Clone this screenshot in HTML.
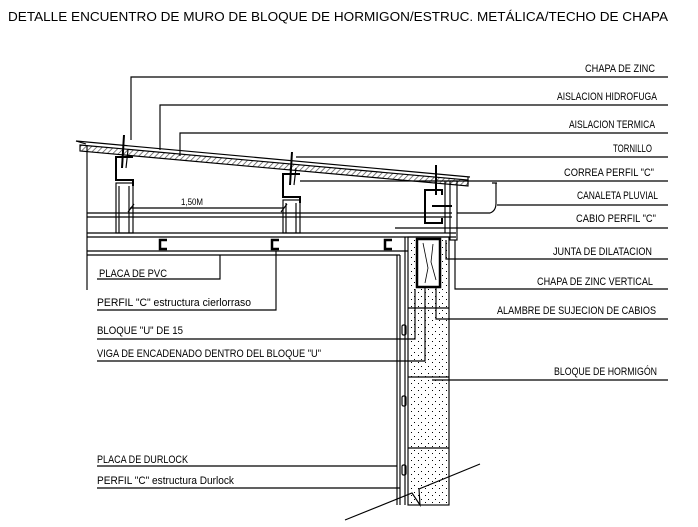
<!DOCTYPE html>
<html><head><meta charset="utf-8"><style>
html,body{margin:0;padding:0;background:#fff;}
svg{display:block;}
text{font-family:"Liberation Sans",sans-serif;fill:#000;}
</style></head><body>
<svg width="698" height="527" viewBox="0 0 698 527" xmlns="http://www.w3.org/2000/svg">
<defs>
<pattern id="dots" width="7" height="7" patternUnits="userSpaceOnUse">
<rect x="1" y="2" width="1" height="1" fill="#000"/><rect x="5" y="5" width="1" height="1" fill="#000"/>
</pattern>
<pattern id="hatch" width="4" height="4" patternUnits="userSpaceOnUse" patternTransform="rotate(45)">
<line x1="0" y1="0" x2="0" y2="4" stroke="#555" stroke-width="1.5"/>
</pattern>
</defs>
<text x="8" y="21" font-size="13" textLength="660" lengthAdjust="spacingAndGlyphs">DETALLE ENCUENTRO DE MURO DE BLOQUE DE HORMIGON/ESTRUC. METÁLICA/TECHO DE CHAPA</text>

<g stroke="#000" stroke-width="1.15" fill="none">
<polygon points="80,145 468,180 468,186 80,151" fill="url(#hatch)" stroke="#000"/>
<line x1="76" y1="141" x2="470" y2="177"/>
<line x1="76" y1="141" x2="86" y2="144"/>
<line x1="468" y1="177" x2="468" y2="184"/>
<line x1="87" y1="145" x2="87" y2="290"/>
<line x1="87" y1="213" x2="452" y2="213"/>
<line x1="87" y1="217" x2="452" y2="217"/>
<line x1="87" y1="233" x2="456" y2="233"/>
<line x1="87" y1="237" x2="456" y2="237"/>
<line x1="87" y1="251" x2="408" y2="251"/>
<line x1="87" y1="255" x2="400" y2="255"/>
<rect x="116" y="183" width="17" height="50"/>
<line x1="119" y1="186" x2="119" y2="233"/><line x1="129" y1="186" x2="129" y2="233"/>
<rect x="283" y="200" width="17" height="33"/>
<line x1="286" y1="203" x2="286" y2="233"/><line x1="296" y1="203" x2="296" y2="233"/>
<path d="M133,157 L116,157 L116,180 L133,180 L133,186" stroke-width="2"/>
<path d="M300,174 L283,174 L283,197 L300,197 L300,203" stroke-width="2"/>
<path d="M442,195 L442,190 L425,190 L425,223 L442,223 L442,218" stroke-width="2"/>
<line x1="124" y1="135" x2="122" y2="168" stroke-width="2"/><line x1="128" y1="150" x2="126" y2="168"/>
<line x1="292" y1="152" x2="290" y2="185" stroke-width="2"/><line x1="296" y1="168" x2="294" y2="185"/>
<line x1="436" y1="165" x2="436" y2="195" stroke-width="2"/>
<line x1="432" y1="206" x2="452" y2="206" stroke-width="2"/>
<line x1="130" y1="208" x2="284" y2="208"/>
<line x1="128" y1="212" x2="134" y2="204"/><line x1="281" y1="212" x2="287" y2="204"/>
<path d="M167,240 L160,240 L160,249 L167,249" stroke-width="2.5"/>
<path d="M279,240 L272,240 L272,249 L279,249" stroke-width="2.5"/>
<path d="M392,240 L385,240 L385,249 L392,249" stroke-width="2.5"/>
<rect x="450" y="181" width="7" height="59"/>
<line x1="445" y1="181" x2="445" y2="233"/>
<path d="M457,213 L490,213 Q496,211 496,203 L496,183 M492,183 L497,183"/>
<rect x="408" y="237" width="41" height="268" fill="url(#dots)"/>
<line x1="408" y1="308" x2="449" y2="308"/>
<line x1="408" y1="377" x2="449" y2="377"/>
<line x1="408" y1="448" x2="449" y2="448"/>
<rect x="417" y="239" width="23" height="48" fill="#fff" stroke-width="2.5"/>
<path d="M423,243 L428,268 L425,283 M433,244 L431,262 L436,280" stroke-width="0.8"/>
<line x1="397" y1="255" x2="397" y2="505"/>
<line x1="400" y1="255" x2="400" y2="505"/>
<line x1="405" y1="237" x2="405" y2="505"/>
<rect x="402" y="325" width="4" height="10" rx="1.5"/>
<rect x="402" y="396" width="4" height="10" rx="1.5"/>
<rect x="402" y="465" width="4" height="10" rx="1.5"/>
<path d="M345,520 L412,493 L420,505 L419,489 L480,464"/>
<polyline points="131,140 131,77 668,77"/>
<polyline points="160,150 160,105 668,105"/>
<polyline points="180,156 180,133 668,133"/>
<polyline points="296,157 668,157"/>
<polyline points="300,181 668,181"/>
<polyline points="497,205 668,205"/>
<polyline points="395,228 668,228"/>
<polyline points="446,240 446,259 668,259"/>
<polyline points="455,240 455,289 668,289"/>
<polyline points="436,287 436,319 668,319"/>
<polyline points="432,380 668,380"/>
<polyline points="97,279 220,279 220,255"/>
<polyline points="97,310 276,310 276,251"/>
<polyline points="97,339 415,339 415,289"/>
<polyline points="97,361 425,361 425,287"/>
<polyline points="97,466 397,466"/>
<polyline points="97,488 400,488"/>
</g>

<g font-size="11">
<text x="585" y="72" textLength="70" lengthAdjust="spacingAndGlyphs">CHAPA DE ZINC</text>
<text x="557" y="100" textLength="100" lengthAdjust="spacingAndGlyphs">AISLACION HIDROFUGA</text>
<text x="569" y="128" textLength="86" lengthAdjust="spacingAndGlyphs">AISLACION TERMICA</text>
<text x="613" y="152" textLength="39" lengthAdjust="spacingAndGlyphs">TORNILLO</text>
<text x="564" y="176" textLength="90" lengthAdjust="spacingAndGlyphs">CORREA PERFIL "C"</text>
<text x="577" y="199" textLength="81" lengthAdjust="spacingAndGlyphs">CANALETA PLUVIAL</text>
<text x="576" y="222" textLength="80" lengthAdjust="spacingAndGlyphs">CABIO PERFIL "C"</text>
<text x="553" y="255" textLength="99" lengthAdjust="spacingAndGlyphs">JUNTA DE DILATACION</text>
<text x="537" y="285" textLength="116" lengthAdjust="spacingAndGlyphs">CHAPA DE ZINC VERTICAL</text>
<text x="497" y="314" textLength="159" lengthAdjust="spacingAndGlyphs">ALAMBRE DE SUJECION DE CABIOS</text>
<text x="554" y="375" textLength="103" lengthAdjust="spacingAndGlyphs">BLOQUE DE HORMIGÓN</text>
<text x="99" y="277" textLength="68" lengthAdjust="spacingAndGlyphs">PLACA DE PVC</text>
<text x="97" y="306" textLength="154" lengthAdjust="spacingAndGlyphs">PERFIL "C" estructura cierlorraso</text>
<text x="97" y="334" textLength="86" lengthAdjust="spacingAndGlyphs">BLOQUE "U" DE 15</text>
<text x="97" y="357" textLength="224" lengthAdjust="spacingAndGlyphs">VIGA DE ENCADENADO DENTRO DEL BLOQUE "U"</text>
<text x="97" y="463" textLength="91" lengthAdjust="spacingAndGlyphs">PLACA DE DURLOCK</text>
<text x="97" y="484" textLength="137" lengthAdjust="spacingAndGlyphs">PERFIL "C" estructura Durlock</text>
<text x="181" y="205" font-size="9" textLength="22" lengthAdjust="spacingAndGlyphs">1,50M</text>
</g>
</svg>
</body></html>
